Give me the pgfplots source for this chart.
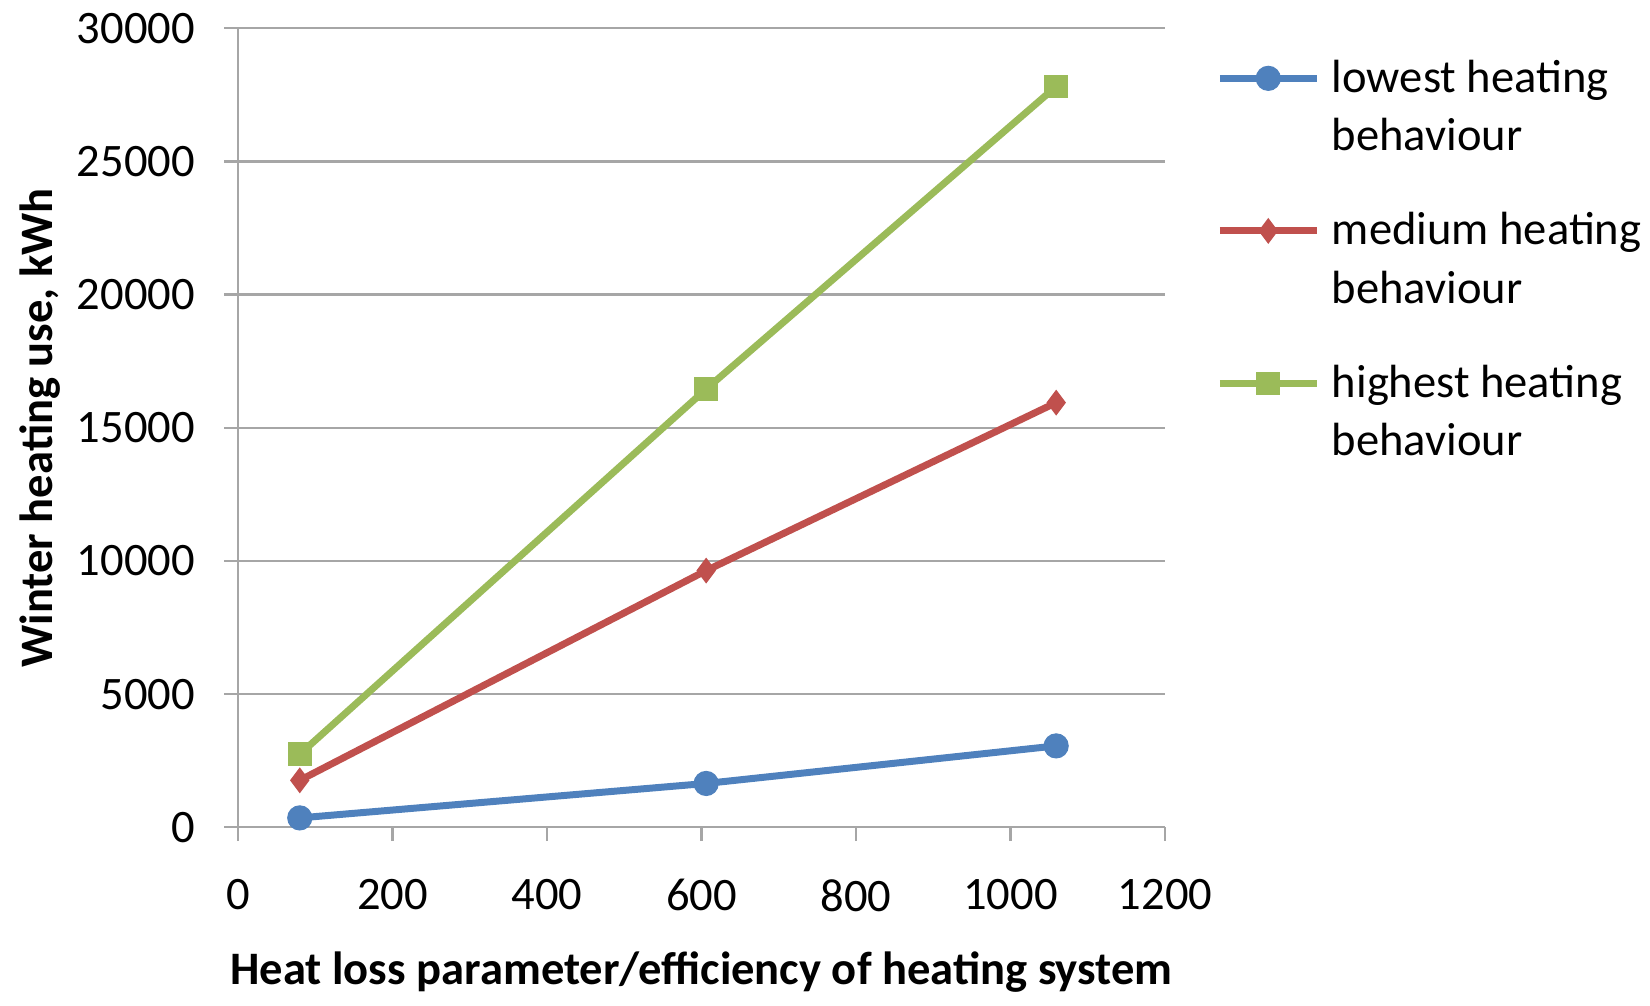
\documentclass[border=0pt]{standalone}
\usepackage{pgfplots}
\pgfplotsset{compat=1.18}
\usepackage{fontspec}
\setmainfont{Carlito}
\definecolor{cblue}{HTML}{4F81BD}
\definecolor{cred}{HTML}{C0504D}
\definecolor{cgreen}{HTML}{9BBB59}
\definecolor{cgrid}{HTML}{A6A6A6}
\newcommand{\lent}[2]{\parbox[t]{80pt}{\baselineskip=15pt #1\\#2}}
\begin{document}
\begin{tikzpicture}
\begin{axis}[
  scale only axis,
  width=239pt, height=206pt,
  xmin=0, xmax=1200, ymin=0, ymax=30000,
  xtick={0,200,...,1200}, ytick={0,5000,...,30000},
  /pgf/number format/assume math mode=true,
  scaled ticks=false,
  xticklabel style={/pgf/number format/1000 sep={}},
  yticklabel style={/pgf/number format/1000 sep={}},
  tick label style={font=\fontsize{12}{14}\selectfont, text=black},
  axis x line*=bottom, axis y line*=left,
  axis line style={cgrid, line width=0.6pt, -},
  tick style={cgrid, line width=0.6pt},
  tick align=outside,
  major tick length=3.6pt,
  ymajorgrids, grid style={cgrid, line width=0.6pt},
  xtick pos=bottom, ytick pos=left,
  xticklabel shift=6.3pt,
  yticklabel shift=4pt,
  xlabel={\bfseries Heat loss parameter/efficiency of heating system},
  ylabel={\bfseries Winter heating use, kWh},
  label style={font=\fontsize{12}{14}\selectfont\bfseries},
  xlabel style={yshift=-3.6pt},
  ylabel style={inner ysep=5pt, yshift=-4.2pt},
  legend cell align=left,
  legend style={draw=none, fill=none, at={(rel axis cs:1,1)}, anchor=north west,
    xshift=13pt, yshift=-6pt, font=\fontsize{12}{15}\selectfont,
    cells={anchor=base west}, row sep=25.5pt, inner sep=0pt, column sep=1pt},
  legend image code/.code={\draw[#1, mark repeat=2, mark phase=2] plot coordinates {(0pt,3.6pt) (12.5pt,3.6pt) (25pt,3.6pt)};},
]
\addplot[cblue, line width=1.8pt, mark=*, mark size=3.1pt, mark options={line width=0.3pt}] coordinates {(80,352) (606,1645) (1059,3055)};
\addlegendentry{\lent{lowest heating}{behaviour}}
\addplot[cred, line width=1.8pt, mark=diamond*, mark size=3.1pt, mark options={line width=0.3pt}] coordinates {(80,1763) (606,9636) (1059,15942)};
\addlegendentry{\lent{medium heating}{behaviour}}
\addplot[cgreen, line width=1.8pt, mark=square*, mark size=2.9pt, mark options={line width=0.3pt}] coordinates {(80,2742) (606,16451) (1059,27811)};
\addlegendentry{\lent{highest heating}{behaviour}}
\end{axis}
\end{tikzpicture}
\end{document}
